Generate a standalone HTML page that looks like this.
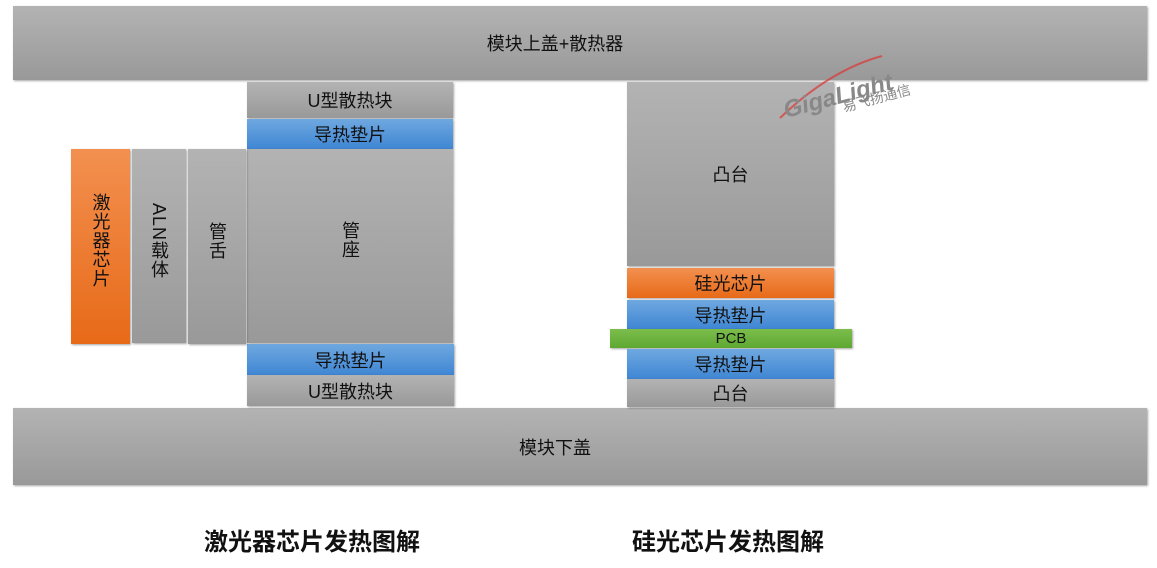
<!DOCTYPE html>
<html><head><meta charset="utf-8"><style>
body{margin:0;width:1157px;height:568px;background:#fff;position:relative;overflow:hidden;font-family:"Liberation Sans","Noto Sans CJK SC",sans-serif;}
.b{position:absolute;display:flex;align-items:center;justify-content:center;color:#111;font-size:18px;box-sizing:border-box;box-shadow:1px 1px 2px rgba(0,0,0,0.35);}
.g{background:linear-gradient(#b3b3b3,#999);}
.bl{background:linear-gradient(#6fa8e0,#3f86d3);}
.o{background:linear-gradient(#f39050,#e76a18);}
.gr{background:linear-gradient(#7cbd4c,#5ea832);}
.v{writing-mode:vertical-rl;letter-spacing:1px;font-size:18px;}
.t{position:absolute;font-weight:bold;font-size:24px;color:#111;top:522px;}
</style></head><body>
<div class="b g" style="left:13px;top:6px;width:1134px;height:74px;padding-right:50px;">模块上盖+散热器</div>
<div class="b g" style="left:13px;top:408px;width:1134px;height:77px;padding-right:50px;">模块下盖</div>

<div class="b g" style="left:247px;top:82px;width:206px;height:36px;">U型散热块</div>
<div class="b bl" style="left:247px;top:119px;width:206px;height:30px;">导热垫片</div>
<div class="b g" style="left:247px;top:149px;width:206px;height:194px;"><span class="v" style="margin-top:-12px">管座</span></div>
<div class="b bl" style="left:247px;top:344px;width:207px;height:31px;">导热垫片</div>
<div class="b g" style="left:247px;top:375px;width:207px;height:31px;">U型散热块</div>
<div class="b o" style="left:71px;top:149px;width:59px;height:195px;"><span class="v" style="margin-top:-12px">激光器芯片</span></div>
<div class="b g" style="left:132px;top:149px;width:54px;height:194px;"><span class="v" style="margin-top:-10px">ALN载体</span></div>
<div class="b g" style="left:188px;top:149px;width:58px;height:195px;"><span class="v" style="margin-top:-12px">管舌</span></div>

<div class="b g" style="left:627px;top:82px;width:207px;height:184px;">凸台</div>
<div class="b o" style="left:627px;top:268px;width:207px;height:30px;">硅光芯片</div>
<div class="b bl" style="left:627px;top:300px;width:207px;height:29px;">导热垫片</div>
<div class="b gr" style="left:610px;top:329px;width:242px;height:19px;font-size:15px;">PCB</div>
<div class="b bl" style="left:627px;top:349px;width:207px;height:30px;">导热垫片</div>
<div class="b g" style="left:627px;top:379px;width:207px;height:28px;">凸台</div>

<svg style="position:absolute;left:770px;top:50px" width="160" height="80">
<path d="M10 68 Q60 20 112 6" stroke="#d33" stroke-width="2" fill="none" opacity="0.7"/>
<text x="16" y="68" font-family="Liberation Sans" font-style="italic" font-weight="bold" font-size="24" fill="#888" transform="rotate(-15 16 68)">GigaLight</text>
<text x="74" y="62" font-family="Noto Sans CJK SC" font-size="14" fill="#888" transform="rotate(-15 74 62)">易飞扬通信</text>
</svg>

<div class="t" style="left:204px;">激光器芯片发热图解</div>
<div class="t" style="left:632px;">硅光芯片发热图解</div>
</body></html>
